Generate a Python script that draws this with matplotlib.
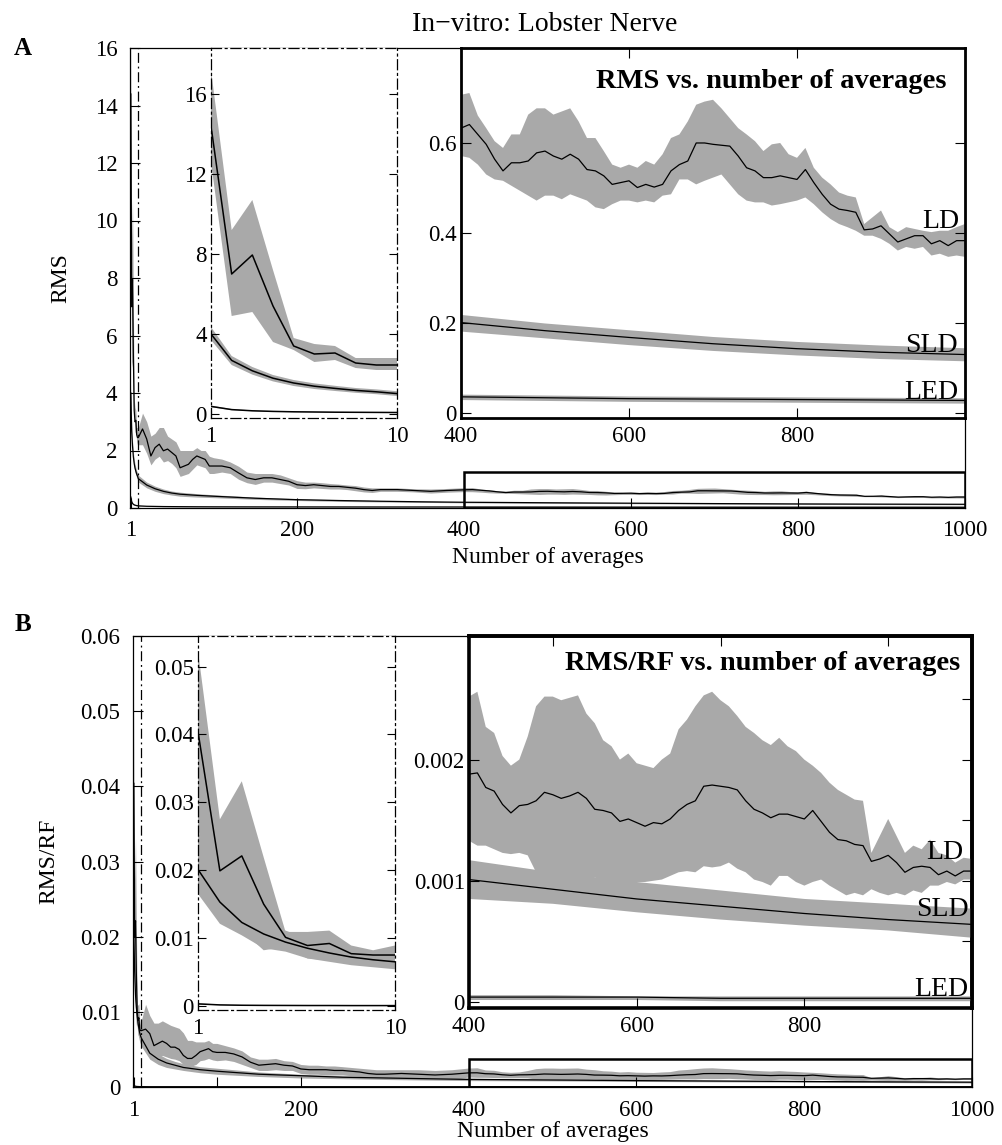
import numpy as np
import matplotlib
matplotlib.use("Agg")
import matplotlib.pyplot as plt
from matplotlib.patches import Rectangle

plt.rcParams['font.family'] = ['Liberation Serif', 'DejaVu Serif']

W, H = 1003, 1145
GREY = '#a9a9a9'
DASHDOT = (0, (8, 3, 1.5, 3))

# ---------------- sample positions (number of averages) ----------------
x_start = [1, 2, 3, 4, 5, 6, 7, 8, 9, 10]
x_mid = [15, 20, 25, 30, 35, 40, 45, 50, 55, 60, 65, 70, 75, 80, 85, 90, 95, 100,
         110, 120, 130, 140, 150, 160, 170, 180, 190, 200, 210, 220, 230, 240, 250,
         260, 270, 280, 290, 300, 320, 340, 360, 380]
x_end = list(range(400, 1001, 10))
x_ld = x_start + x_mid + x_end
x_smooth = [1, 2, 3, 4, 5, 6, 7, 8, 9, 10, 20, 30, 40, 50, 60, 80, 100, 150, 200,
            250, 300, 350, 400, 500, 600, 700, 800, 900, 1000]

# ---------------- panel A : RMS ----------------
rms_ld = ([14.4, 7.0, 7.95, 5.4, 3.4, 3.0, 3.05, 2.55, 2.45, 2.45] +
          [2.75, 2.4, 1.81, 2.1, 2.22, 1.99, 2.05, 1.93, 1.81, 1.4, 1.46, 1.52, 1.69, 1.81, 1.75, 1.69, 1.46, 1.46,
           1.46, 1.4, 1.22, 1.05, 0.99, 1.05, 1.05, 0.99, 0.93, 0.81, 0.78, 0.81, 0.78, 0.75, 0.75, 0.72, 0.69, 0.64, 0.61, 0.64,
           0.64, 0.61, 0.58, 0.61] +
          [0.632, 0.640, 0.618, 0.596, 0.563, 0.537, 0.555, 0.555, 0.559, 0.577,
           0.581, 0.570, 0.563, 0.574, 0.563, 0.540, 0.537, 0.526, 0.507, 0.511,
           0.515, 0.500, 0.507, 0.501, 0.507, 0.537, 0.551, 0.559, 0.599, 0.599,
           0.596, 0.594, 0.592, 0.570, 0.544, 0.537, 0.522, 0.522, 0.526, 0.522,
           0.518, 0.540, 0.511, 0.485, 0.463, 0.452, 0.449, 0.445, 0.406, 0.408,
           0.415, 0.397, 0.379, 0.386, 0.393, 0.393, 0.375, 0.382, 0.371, 0.382, 0.382])
rms_ld_hi = ([17.2, 9.2, 10.7, 7.2, 3.8, 3.5, 3.4, 2.8, 2.8, 2.8] +
             [3.3, 3.0, 2.5, 2.6, 2.8, 2.8, 2.5, 2.4, 2.3, 2.0, 2.0, 2.0, 2.0, 2.1, 2.0, 2.0, 1.8, 1.75,
              1.7, 1.6, 1.45, 1.25, 1.2, 1.2, 1.2, 1.15, 1.05, 0.95, 0.9, 0.9, 0.88, 0.85, 0.83, 0.8, 0.78, 0.73, 0.7, 0.7,
              0.7, 0.67, 0.66, 0.68] +
             [0.706, 0.71, 0.66, 0.632, 0.603, 0.588, 0.618, 0.618, 0.662, 0.676,
              0.676, 0.662, 0.669, 0.676, 0.647, 0.61, 0.61, 0.581, 0.551, 0.544,
              0.551, 0.544, 0.559, 0.551, 0.574, 0.61, 0.618, 0.647, 0.684, 0.691,
              0.695, 0.676, 0.654, 0.632, 0.618, 0.603, 0.581, 0.596, 0.599, 0.574,
              0.566, 0.588, 0.544, 0.522, 0.507, 0.489, 0.482, 0.478, 0.419, 0.434,
              0.449, 0.412, 0.401, 0.412, 0.408, 0.404, 0.401, 0.404, 0.404, 0.412, 0.419])
rms_ld_lo = ([12.6, 4.9, 5.1, 3.6, 3.2, 2.6, 2.7, 2.3, 2.2, 2.2] +
             [2.2, 1.9, 1.5, 1.7, 1.8, 1.6, 1.65, 1.55, 1.4, 1.1, 1.15, 1.2, 1.35, 1.5, 1.45, 1.4, 1.2, 1.2,
              1.25, 1.2, 1.0, 0.88, 0.82, 0.9, 0.9, 0.85, 0.8, 0.68, 0.67, 0.7, 0.68, 0.66, 0.66, 0.64, 0.6, 0.56, 0.54, 0.58,
              0.58, 0.56, 0.52, 0.55] +
             [0.57, 0.566, 0.551, 0.529, 0.518, 0.515, 0.504, 0.493, 0.482, 0.471,
              0.482, 0.482, 0.474, 0.485, 0.478, 0.471, 0.456, 0.452, 0.463, 0.471,
              0.471, 0.467, 0.471, 0.467, 0.482, 0.485, 0.518, 0.518, 0.507, 0.515,
              0.522, 0.529, 0.507, 0.485, 0.471, 0.467, 0.467, 0.46, 0.463, 0.467,
              0.471, 0.478, 0.463, 0.445, 0.43, 0.419, 0.412, 0.404, 0.393, 0.393,
              0.386, 0.375, 0.36, 0.368, 0.364, 0.368, 0.349, 0.353, 0.346, 0.349, 0.346])

rms_sld = [4.0, 2.68, 2.16, 1.79, 1.55, 1.39, 1.28, 1.18, 1.11, 1.02, 0.8, 0.67, 0.58, 0.52, 0.48,
           0.44, 0.41, 0.34, 0.29, 0.26, 0.235, 0.215, 0.2, 0.182, 0.167, 0.153, 0.142, 0.134, 0.129]
rms_sld_hi = [4.35, 2.9, 2.35, 1.95, 1.7, 1.53, 1.41, 1.3, 1.23, 1.14, 0.9, 0.76, 0.66, 0.59, 0.55,
              0.5, 0.46, 0.38, 0.32, 0.29, 0.26, 0.235, 0.217, 0.198, 0.183, 0.168, 0.157, 0.149, 0.143]
rms_sld_lo = [3.7, 2.45, 1.97, 1.63, 1.4, 1.25, 1.15, 1.06, 0.99, 0.9, 0.7, 0.58, 0.5, 0.45, 0.41,
              0.38, 0.36, 0.3, 0.26, 0.23, 0.21, 0.195, 0.18, 0.165, 0.15, 0.137, 0.127, 0.119, 0.114]

rms_led = [0.38, 0.22, 0.16, 0.13, 0.11, 0.1, 0.09, 0.085, 0.08, 0.075, 0.06, 0.055, 0.05, 0.048, 0.046,
           0.043, 0.041, 0.039, 0.038, 0.037, 0.036, 0.036, 0.035, 0.033, 0.031, 0.03, 0.029, 0.028, 0.027]
rms_led_hi = [0.42, 0.25, 0.18, 0.15, 0.13, 0.115, 0.105, 0.098, 0.092, 0.086, 0.069, 0.063, 0.057, 0.055, 0.053,
              0.05, 0.048, 0.046, 0.045, 0.044, 0.043, 0.042, 0.041, 0.039, 0.037, 0.036, 0.035, 0.034, 0.033]
rms_led_lo = [0.34, 0.19, 0.14, 0.11, 0.09, 0.085, 0.075, 0.072, 0.068, 0.064, 0.051, 0.047, 0.043, 0.041, 0.039,
              0.036, 0.034, 0.032, 0.031, 0.03, 0.029, 0.03, 0.029, 0.027, 0.025, 0.024, 0.023, 0.022, 0.021]

# ---------------- panel B : RMS/RF ----------------
rf_ld = ([0.0404, 0.0199, 0.0221, 0.015, 0.0101, 0.0089, 0.0092, 0.0077, 0.0075, 0.0075] +
         [0.0077, 0.0071, 0.0055, 0.0058, 0.0061, 0.0058, 0.0053, 0.0053, 0.005, 0.0042, 0.0038, 0.0038,
          0.0042, 0.0047, 0.0049, 0.0051, 0.0047, 0.0046,
          0.0046, 0.0044, 0.004, 0.0033, 0.0029, 0.003, 0.0031, 0.0029, 0.0028, 0.0024, 0.0023, 0.0023,
          0.0023, 0.0022, 0.0022, 0.0021, 0.002, 0.0018, 0.0017, 0.0017,
          0.0018, 0.0017, 0.0016, 0.0017] +
         [0.00188, 0.00189, 0.00177, 0.00174, 0.00163, 0.00156, 0.00162, 0.00163, 0.00166, 0.00173,
          0.00171, 0.00168, 0.0017, 0.00173, 0.00168, 0.00159, 0.00158, 0.00156, 0.00149, 0.00151,
          0.00148, 0.00145, 0.00148, 0.00147, 0.00151, 0.00158, 0.00163, 0.00166, 0.00178, 0.00179,
          0.00178, 0.00177, 0.00175, 0.00166, 0.00159, 0.00156, 0.00152, 0.00155, 0.00155, 0.00153,
          0.00151, 0.00158, 0.00149, 0.0014, 0.00134, 0.00133, 0.0013, 0.00129, 0.00116, 0.00118,
          0.00121, 0.00115, 0.00107, 0.00111, 0.00112, 0.00111, 0.00105, 0.00108, 0.00104, 0.00108, 0.00108])
rf_ld_hi = ([0.0523, 0.0275, 0.0331, 0.0219, 0.0109, 0.0109, 0.0111, 0.0089, 0.0082, 0.0089] +
            [0.011, 0.0095, 0.0085, 0.0085, 0.0088, 0.0085, 0.0082, 0.008, 0.0078, 0.0072, 0.0062, 0.0062,
             0.006, 0.006, 0.006, 0.0062, 0.0058, 0.0058,
             0.0055, 0.0052, 0.0048, 0.004, 0.0037, 0.0037, 0.0038, 0.0035, 0.0034, 0.003, 0.0029, 0.0029,
             0.0028, 0.0028, 0.0027, 0.0026, 0.0025, 0.0024, 0.0023, 0.0023,
             0.0023, 0.0023, 0.0022, 0.0023] +
            [0.00252, 0.00256, 0.00227, 0.00222, 0.00203, 0.00195, 0.002, 0.00219, 0.00244, 0.00252,
             0.00252, 0.00249, 0.00251, 0.00253, 0.00238, 0.0023, 0.00216, 0.00211, 0.002, 0.00205,
             0.00197, 0.00195, 0.00193, 0.002, 0.00205, 0.00225, 0.00233, 0.00244, 0.00253, 0.00256,
             0.00249, 0.00244, 0.00236, 0.00227, 0.00222, 0.00216, 0.00212, 0.00218, 0.00211, 0.00207,
             0.002, 0.00195, 0.00189, 0.00181, 0.00175, 0.00171, 0.00167, 0.00166, 0.00123, 0.00137,
             0.00151, 0.00137, 0.00123, 0.00129, 0.00126, 0.00134, 0.00123, 0.00121, 0.00115, 0.00119, 0.00118])
rf_ld_lo = ([0.0262, 0.0126, 0.0111, 0.0082, 0.0087, 0.007, 0.0067, 0.0065, 0.0062, 0.0062] +
            [0.0048, 0.0047, 0.004, 0.004, 0.0042, 0.004, 0.0038, 0.0037, 0.0035, 0.003, 0.0028, 0.0028,
             0.003, 0.0035, 0.0036, 0.0038, 0.0036, 0.0035,
             0.0036, 0.0034, 0.003, 0.0026, 0.0022, 0.0022, 0.0023, 0.0022, 0.0022, 0.0018, 0.0017, 0.0017,
             0.0016, 0.0016, 0.0016, 0.0015, 0.0014, 0.0013, 0.0012, 0.0012,
             0.0012, 0.0011, 0.001, 0.001] +
            [0.00133, 0.00129, 0.00129, 0.00126, 0.00123, 0.00122, 0.00123, 0.00121, 0.00107, 0.00104,
             0.00101, 0.00099, 0.001, 0.00101, 0.00099, 0.00103, 0.00099, 0.00096, 0.00099, 0.00096,
             0.00099, 0.00099, 0.001, 0.00101, 0.00104, 0.00107, 0.00108, 0.00107, 0.00112, 0.00111,
             0.00112, 0.00115, 0.0011, 0.00107, 0.00101, 0.00099, 0.00096, 0.00104, 0.00104, 0.00099,
             0.00096, 0.00099, 0.00101, 0.00096, 0.00092, 0.00088, 0.0009, 0.00088, 0.00093, 0.0009,
             0.00088, 0.0009, 0.00088, 0.00092, 0.0009, 0.00096, 0.00096, 0.00099, 0.00097, 0.00101, 0.00101])

rf_sld = [0.0201, 0.0153, 0.0123, 0.0106, 0.0094, 0.0085, 0.0078, 0.0072, 0.0068, 0.0065, 0.0045, 0.0037,
          0.0032, 0.0029, 0.0026, 0.0023, 0.0021, 0.0017, 0.0015, 0.0013, 0.0012, 0.0011,
          0.00101, 0.00093, 0.00085, 0.00079, 0.00073, 0.00068, 0.00064]
rf_sld_hi = [0.0258, 0.0184, 0.015, 0.0126, 0.0111, 0.0099, 0.0089, 0.0084, 0.008, 0.0077, 0.0053, 0.0044,
             0.0038, 0.0034, 0.0031, 0.0027, 0.0025, 0.002, 0.0017, 0.0015, 0.0014, 0.0013,
             0.00117, 0.00107, 0.00099, 0.00092, 0.00085, 0.00081, 0.00077]
rf_sld_lo = [0.0165, 0.0121, 0.0104, 0.0085, 0.008, 0.007, 0.0065, 0.006, 0.0057, 0.0054, 0.0037, 0.003,
             0.0026, 0.0024, 0.0022, 0.0019, 0.0017, 0.0014, 0.0012, 0.0011, 0.001, 0.00092,
             0.00085, 0.00081, 0.00074, 0.00068, 0.00063, 0.00059, 0.00053]

rf_led = [0.0003, 0.00015, 0.0001, 0.00008, 0.00007, 0.00006, 0.00006, 0.00005, 0.00005, 0.00005, 0.00004,
          0.00004, 0.00004, 0.00004, 0.00004, 0.00004, 0.00004, 0.00004, 0.00004, 0.00004, 0.00004,
          0.00004, 0.00004, 0.00004, 0.00004, 0.00003, 0.00003, 0.00003, 0.00003]
rf_led_hi = [0.0004, 0.0002, 0.00014, 0.00011, 0.0001, 0.00009, 0.00008, 0.00007, 0.00007, 0.00007, 0.00006,
             0.00006, 0.00006, 0.00006, 0.00006, 0.00006, 0.00006, 0.00006, 0.00006, 0.00006, 0.00006,
             0.00006, 0.00006, 0.00006, 0.00005, 0.00005, 0.00005, 0.00005, 0.00005]
rf_led_lo = [0.0002, 0.0001, 0.00007, 0.00005, 0.00004, 0.00003, 0.00003, 0.00003, 0.00003, 0.00003, 0.00002,
             0.00002, 0.00002, 0.00002, 0.00002, 0.00002, 0.00002, 0.00002, 0.00002, 0.00002, 0.00002,
             0.00002, 0.00002, 0.00002, 0.00002, 0.00001, 0.00001, 0.00001, 0.00001]

series_A = [(x_ld, rms_ld_lo, rms_ld_hi, rms_ld),
            (x_smooth, rms_sld_lo, rms_sld_hi, rms_sld),
            (x_smooth, rms_led_lo, rms_led_hi, rms_led)]
series_B = [(x_ld, rf_ld_lo, rf_ld_hi, rf_ld),
            (x_smooth, rf_sld_lo, rf_sld_hi, rf_sld),
            (x_smooth, rf_led_lo, rf_led_hi, rf_led)]


def px_axes(fig, l, t, r, b):
    # axes placed with pixel edges of the 1003x1145 canvas
    return fig.add_axes([l / W, 1 - b / H, (r - l) / W, (b - t) / H])


def draw(ax, series, lw=0.9):
    for x, lo, hi, mean in series:
        ax.fill_between(x, lo, hi, color=GREY, linewidth=0)
    for x, lo, hi, mean in series:
        ax.plot(x, mean, color='k', lw=lw)


def dashdot_box(ax):
    for s in ax.spines.values():
        s.set_linestyle(DASHDOT)
        s.set_linewidth(0.9)


fig = plt.figure(figsize=(W / 100, H / 100), dpi=100)

fig.text(545 / W, 1 - 31 / H, 'In\u2212vitro: Lobster Nerve', ha='center', va='baseline', fontsize=20)
fig.text(14 / W, 1 - 55 / H, 'A', ha='left', va='baseline', fontsize=18, fontweight='bold')
fig.text(15 / W, 1 - 631 / H, 'B', ha='left', va='baseline', fontsize=18, fontweight='bold')

# ================= panel A =================
axA = px_axes(fig, 130, 48, 965, 508)
draw(axA, series_A)
axA.set_xlim(0, 1000)
axA.set_ylim(0, 16)
axA.set_xticks([1, 200, 400, 600, 800, 1000])
axA.set_yticks(range(0, 17, 2))
axA.tick_params(direction='in', length=7, width=0.8, labelsize=16.5, pad=9)
axA.plot([10, 10], [0, 16], color='k', lw=0.9, ls=DASHDOT)
axA.add_patch(Rectangle((400, 0), 600, 1.25, fill=False, ec='k', lw=1.8, zorder=5))
axA.set_ylabel('RMS', fontsize=17)
axA.yaxis.set_label_coords(-0.07, 0.5)
axA.set_xlabel('Number of averages', fontsize=17)
axA.xaxis.set_label_coords(0.5, -0.085)
for s in axA.spines.values():
    s.set_linewidth(0.9)

# small inset 1-10
axa = px_axes(fig, 211, 48, 397, 418)
draw(axa, series_A, lw=1.1)
axa.set_xlim(1, 10)
axa.set_ylim(-0.2, 18.3)
axa.set_xticks([1, 10])
axa.set_yticks([0, 4, 8, 12, 16])
axa.tick_params(direction='in', length=6, width=0.8, labelsize=16.5, pad=3, right=True)
axa.tick_params(axis='x', pad=6)
dashdot_box(axa)

# large inset 400-1000
axA2 = px_axes(fig, 461, 48, 965, 418)
draw(axA2, series_A)
axA2.set_xlim(400, 1000)
axA2.set_ylim(-0.012, 0.81)
axA2.set_xticks([400, 600, 800])
axA2.set_yticks([0, 0.2, 0.4, 0.6])
axA2.set_yticklabels(['0', '0.2', '0.4', '0.6'])
axA2.tick_params(direction='in', length=7, width=0.8, labelsize=16.5, pad=3, top=True, right=True)
axA2.tick_params(axis='x', pad=6)
for s in axA2.spines.values():
    s.set_linewidth(2.0)
axA2.text(0.964, 0.91, 'RMS vs. number of averages', transform=axA2.transAxes,
          ha='right', va='center', fontsize=20.5, fontweight='bold')
axA2.text(0.988, 0.531, 'LD', transform=axA2.transAxes, ha='right', va='center', fontsize=20)
axA2.text(0.986, 0.197, 'SLD', transform=axA2.transAxes, ha='right', va='center', fontsize=20)
axA2.text(0.986, 0.07, 'LED', transform=axA2.transAxes, ha='right', va='center', fontsize=20)

# ================= panel B =================
axB = px_axes(fig, 133, 636, 972, 1087)
draw(axB, series_B)
axB.set_xlim(0, 1000)
axB.set_ylim(0, 0.06)
axB.set_xticks([1, 100, 200, 400, 600, 800, 1000])
axB.set_xticklabels(['1', '', '200', '400', '600', '800', '1000'])
axB.set_yticks([0, 0.01, 0.02, 0.03, 0.04, 0.05, 0.06])
axB.set_yticklabels(['0', '0.01', '0.02', '0.03', '0.04', '0.05', '0.06'])
axB.tick_params(direction='in', length=7, width=0.8, labelsize=16.5, pad=9)
axB.plot([10, 10], [0, 0.06], color='k', lw=0.9, ls=DASHDOT)
axB.add_patch(Rectangle((400, 0), 600, 0.0037, fill=False, ec='k', lw=1.8, zorder=5))
axB.set_ylabel('RMS/RF', fontsize=17)
axB.yaxis.set_label_coords(-0.088, 0.5)
axB.set_xlabel('Number of averages', fontsize=17)
axB.xaxis.set_label_coords(0.5, -0.075)
for s in axB.spines.values():
    s.set_linewidth(0.9)

# small inset 1-10
axb = px_axes(fig, 198, 636, 395, 1010)
draw(axb, series_B, lw=1.1)
axb.set_xlim(1, 10)
axb.set_ylim(-0.0006, 0.0545)
axb.set_xticks([1, 10])
axb.set_yticks([0, 0.01, 0.02, 0.03, 0.04, 0.05])
axb.set_yticklabels(['0', '0.01', '0.02', '0.03', '0.04', '0.05'])
axb.tick_params(direction='in', length=6, width=0.8, labelsize=16.5, pad=3, right=True)
axb.tick_params(axis='x', pad=6)
dashdot_box(axb)

# large inset 400-1000
axB2 = px_axes(fig, 469, 636, 972, 1008)
draw(axB2, series_B)
axB2.set_xlim(400, 1000)
axB2.set_ylim(-0.00005, 0.00302)
axB2.set_xticks([400, 600, 800])
axB2.set_yticks([0, 0.001, 0.002])
axB2.set_yticklabels(['0', '0.001', '0.002'])
axB2.tick_params(direction='in', length=7, width=0.8, labelsize=16.5, pad=3)
axB2.tick_params(axis='x', pad=6)
top = axB2.secondary_xaxis('top')
top.set_xticks([500, 700, 900])
top.tick_params(direction='in', length=7, width=0.8, labeltop=False)
right = axB2.secondary_yaxis('right')
right.set_yticks([0.0005, 0.001, 0.0015, 0.002, 0.0025])
right.tick_params(direction='in', length=7, width=0.8, labelright=False)
for a in (axB2, top, right):
    for s in a.spines.values():
        s.set_linewidth(2.6)
axB2.text(0.976, 0.927, 'RMS/RF vs. number of averages', transform=axB2.transAxes,
          ha='right', va='center', fontsize=20.5, fontweight='bold')
axB2.text(0.982, 0.418, 'LD', transform=axB2.transAxes, ha='right', va='center', fontsize=20)
axB2.text(0.993, 0.265, 'SLD', transform=axB2.transAxes, ha='right', va='center', fontsize=20)
axB2.text(0.993, 0.05, 'LED', transform=axB2.transAxes, ha='right', va='center', fontsize=20)

fig.savefig('out.png', dpi=100)
